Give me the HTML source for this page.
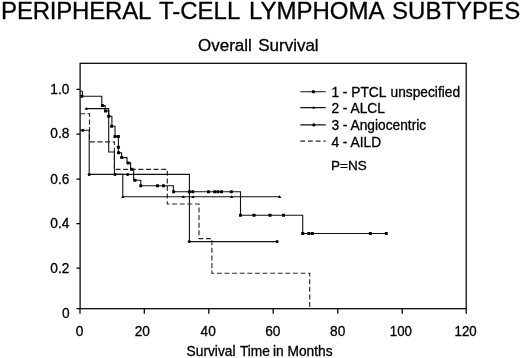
<!DOCTYPE html>
<html>
<head>
<meta charset="utf-8">
<title>Peripheral T-Cell Lymphoma Subtypes</title>
<style>
html,body{margin:0;padding:0;background:#fff;}
body{width:520px;height:358px;overflow:hidden;}
svg{display:block;}
text{font-family:"Liberation Sans",sans-serif;fill:#000;stroke:#000;stroke-width:.3px;}
.ln{fill:none;stroke:#111;stroke-width:1.1;stroke-linejoin:miter;}
.ds{fill:none;stroke:#2a2a2a;stroke-width:1.15;stroke-dasharray:5 2.6;}
.fr{fill:none;stroke:#000;stroke-width:1.25;}
.mk{fill:#000;}
</style>
</head>
<body>
<svg width="520" height="358" viewBox="0 0 520 358">
<rect width="520" height="358" fill="#fff"/>
<!-- titles -->
<text y="19.45" font-size="24"><tspan x="1.1" letter-spacing="-0.2">PERIPHERAL</tspan> <tspan x="158.9">T-CELL</tspan> <tspan x="248.9">LYMPHOMA</tspan> <tspan x="392.1">SUBTYPES</tspan></text>
<text x="198" y="51.3" font-size="17">Overall <tspan dx="1.6">Survival</tspan></text>
<!-- frame -->
<rect class="fr" x="80.1" y="63.3" width="386.1" height="245.4"/>
<!-- y ticks -->
<g class="fr">
<path d="M76.4 89.4H80M76.4 134.2H80M76.4 179.1H80M76.4 223.6H80M76.4 268.1H80M76.4 308.7H80"/>
<path d="M80 308.7V313.7M144.3 308.7V313.7M208.8 308.7V313.7M273.2 308.7V313.7M337.8 308.7V313.7M402.2 308.7V313.7M466.2 308.7V313.7"/>
</g>
<!-- y labels -->
<g font-size="13.9" text-anchor="end">
<text transform="translate(69.4 93.5) scale(.985 1)">1.0</text>
<text transform="translate(69.4 137.6) scale(.985 1)">0.8</text>
<text transform="translate(69.4 183.6) scale(.985 1)">0.6</text>
<text transform="translate(69.4 228.3) scale(.985 1)">0.4</text>
<text transform="translate(69.4 273.3) scale(.985 1)">0.2</text>
<text transform="translate(69.6 317.5) scale(.985 1)">0</text>
</g>
<!-- x labels -->
<g font-size="13.9" text-anchor="middle">
<text transform="translate(79.6 336) scale(.985 1)">0</text>
<text transform="translate(142.3 336) scale(.985 1)">20</text>
<text transform="translate(208.2 336) scale(.985 1)">40</text>
<text transform="translate(272.8 336) scale(.985 1)">60</text>
<text transform="translate(337.7 336) scale(.985 1)">80</text>
<text transform="translate(400.9 336) scale(.955 1)">100</text>
<text transform="translate(465.6 336) scale(.955 1)">120</text>
</g>
<text x="186.6" y="356" font-size="13.75">Survival <tspan dx=".8">Time</tspan> <tspan dx="-.8">in</tspan> Months</text>

<!-- curve 4 AILD dashed -->
<path class="ds" d="M80 113.7H89.5V141.8H114.4V169.3H167.3V204H199V238.6H211.9V273.2H309.7V308.7"/>
<!-- curve 3 Angiocentric (circles) -->
<path class="ln" d="M80 130.3H89.2V174.4H189.4V241.6H277.1"/>
<!-- curve 2 ALCL (triangles) -->
<path class="ln" d="M86.2 108.6H108.7V152H114.4V174.4H122.8V196.8H279.6"/>
<!-- curve 1 PTCL (squares) -->
<path class="ln" d="M80 91.3H82.4V96.3H101.8V105.6H105.2V110.9H108.7V116.2H111.9V126.2H115V136.4H118.4V152.7H121.6V157.6H127V162.9H130.6V169.2H133.7V180.2H140.8V185.7H173.4V191.8H240.5V215.3H302.7V233.5H386.3"/>
<!-- markers: squares -->
<g class="mk">
<rect x="80.4" y="94.8" width="3" height="3" rx=".5"/>
<rect x="100.9" y="103.9" width="3" height="3" rx=".5"/>
<rect x="104.1" y="109.5" width="3" height="3" rx=".5"/>
<rect x="107.2" y="114.7" width="3" height="3" rx=".5"/>
<rect x="110.1" y="124.7" width="3" height="3" rx=".5"/>
<rect x="113.5" y="134.9" width="3" height="3" rx=".5"/>
<rect x="116.9" y="134.9" width="3" height="3" rx=".5"/>
<rect x="116.9" y="145.7" width="3" height="3" rx=".5"/>
<rect x="117.1" y="151.2" width="3" height="3" rx=".5"/>
<rect x="120.2" y="156.1" width="3" height="3" rx=".5"/>
<rect x="126.7" y="161.4" width="3" height="3" rx=".5"/>
<rect x="130.1" y="167.7" width="3" height="3" rx=".5"/>
<rect x="133.4" y="178.7" width="3" height="3" rx=".5"/>
<rect x="139.3" y="184.2" width="3" height="3" rx=".5"/>
<rect x="156.0" y="184.2" width="3" height="3" rx=".5"/>
<rect x="162.0" y="184.2" width="3" height="3" rx=".5"/>
<rect x="172.1" y="190.3" width="3" height="3" rx=".5"/>
<rect x="187.9" y="190.3" width="3" height="3" rx=".5"/>
<rect x="191.3" y="190.3" width="3" height="3" rx=".5"/>
<rect x="207.0" y="190.3" width="3" height="3" rx=".5"/>
<rect x="213.3" y="190.3" width="3" height="3" rx=".5"/>
<rect x="216.5" y="190.3" width="3" height="3" rx=".5"/>
<rect x="220.0" y="190.3" width="3" height="3" rx=".5"/>
<rect x="229.8" y="190.3" width="3" height="3" rx=".5"/>
<rect x="239.0" y="213.8" width="3" height="3" rx=".5"/>
<rect x="252.5" y="213.8" width="3" height="3" rx=".5"/>
<rect x="268.5" y="213.8" width="3" height="3" rx=".5"/>
<rect x="282.0" y="213.8" width="3" height="3" rx=".5"/>
<rect x="301.2" y="232.0" width="3" height="3" rx=".5"/>
<rect x="307.3" y="232.0" width="3" height="3" rx=".5"/>
<rect x="310.8" y="232.0" width="3" height="3" rx=".5"/>
<rect x="368.9" y="232.0" width="3" height="3" rx=".5"/>
<rect x="384.8" y="232.0" width="3" height="3" rx=".5"/>
</g>
<!-- circles -->
<g class="mk">
<circle cx="82.8" cy="130.3" r="1.5"/>
<circle cx="89.2" cy="174.4" r="1.5"/>
<circle cx="115" cy="174.4" r="1.5"/>
<circle cx="127.7" cy="174.4" r="1.5"/>
<circle cx="189.3" cy="241.6" r="1.5"/>
<circle cx="277.1" cy="241.6" r="1.5"/>
</g>
<!-- triangles -->
<g class="mk">
<path d="M86.2 106.9l1.7 2.8h-3.4z"/>
<path d="M122.8 195.3l1.7 2.8h-3.4z"/>
<path d="M183.3 195.3l1.7 2.8h-3.4z"/>
<path d="M193 195.3l1.7 2.8h-3.4z"/>
<path d="M231.5 195.3l1.7 2.8h-3.4z"/>
<path d="M279.6 195.3l1.7 2.8h-3.4z"/>
</g>

<!-- legend -->
<g>
<path class="ln" d="M300.3 91.7H325.7M300.3 107.6H325.7M300.3 124.9H325.7"/>
<path class="ds" style="stroke-dasharray:4.8 2.9;stroke-width:1.3" d="M300.3 141.2H325.7"/>
<rect class="mk" x="311.9" y="90.2" width="3" height="3" rx=".6"/>
<path class="mk" d="M313.7 105.9l1.5 2.7h-3z"/>
<circle class="mk" cx="313.8" cy="124.9" r="1.55"/>
<g font-size="13.75">
<text x="331.4" y="96.6">1 - PTCL <tspan dx="0.8">unspecified</tspan></text>
<text x="331.4" y="113.4">2 - ALCL</text>
<text x="331.4" y="130.3">3 - Angiocentric</text>
<text x="331.4" y="146.9">4 - AILD</text>
<text x="331" y="170.3" font-size="13.5">P=NS</text>
</g>
</g>
</svg>
</body>
</html>
